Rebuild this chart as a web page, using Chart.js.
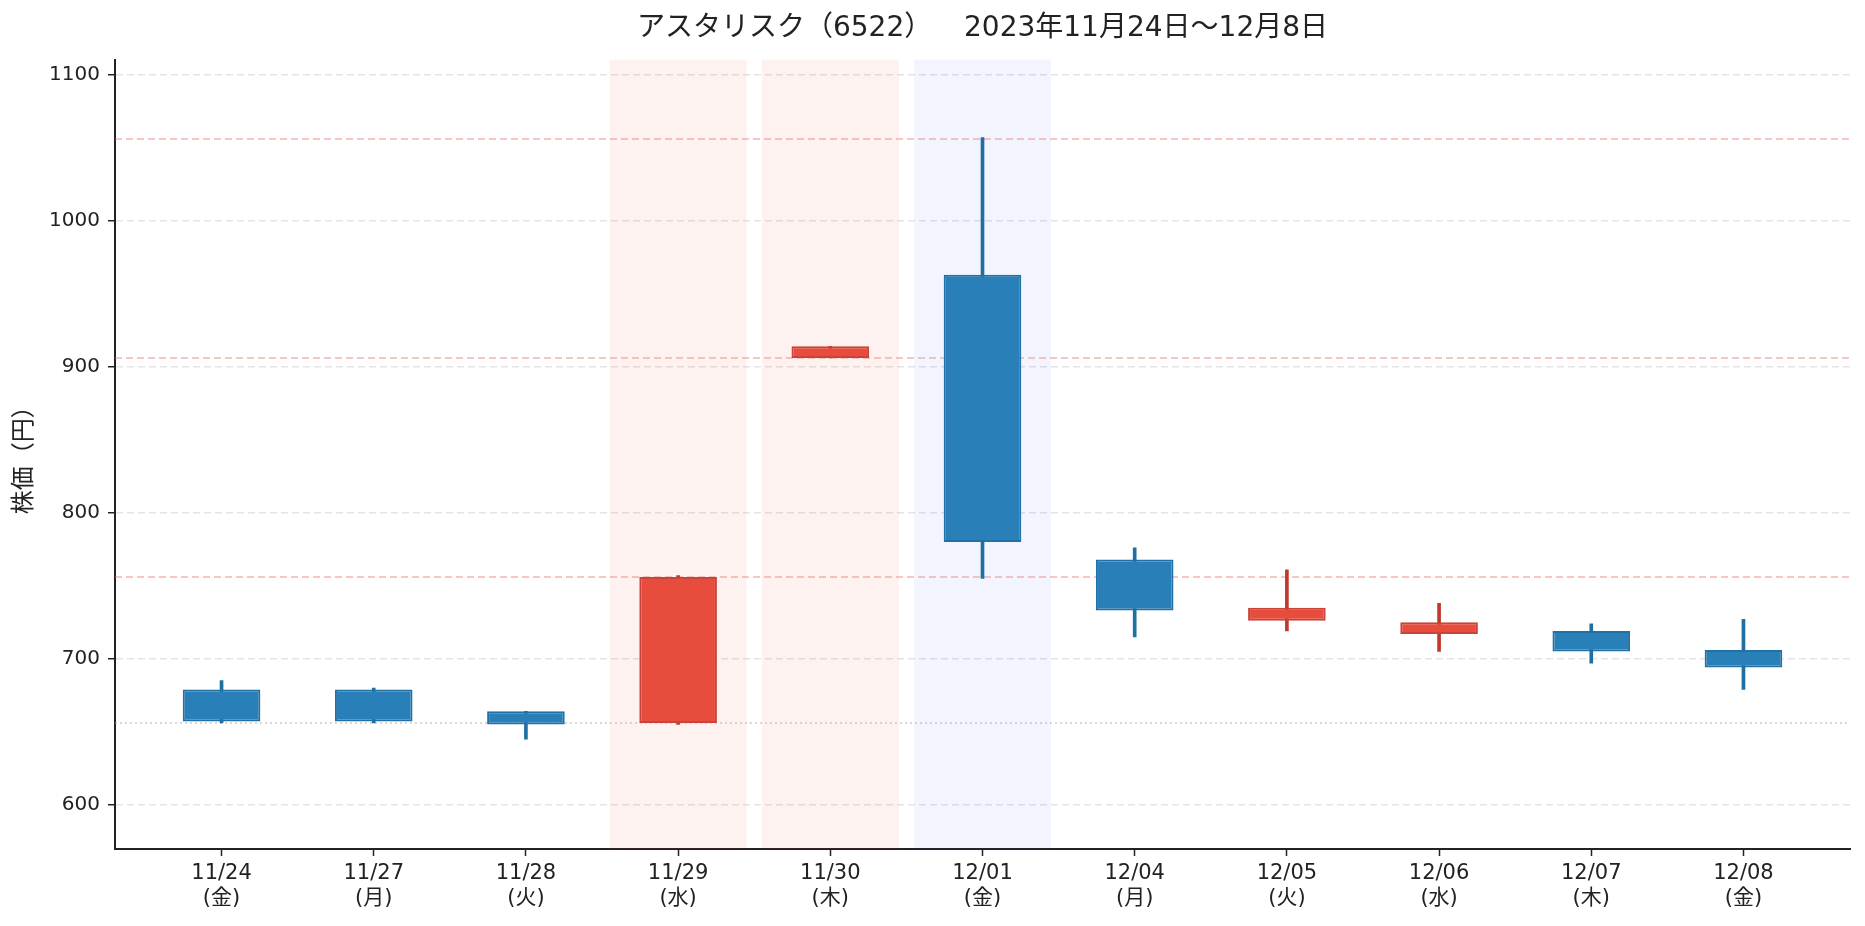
<!DOCTYPE html>
<html>
<head>
<meta charset="utf-8">
<script src="https://cdn.jsdelivr.net/npm/chart.js@4.4.1/dist/chart.umd.min.js"></script>
<style>
  html, body { margin: 0; padding: 0; background: #ffffff; }
  #wrap { width: 1865px; height: 926px; position: relative; }
</style>
</head>
<body>
<div id="wrap"><canvas id="c"></canvas></div>
<script>
// ---- data ----
const dates    = ['11/24','11/27','11/28','11/29','11/30','12/01','12/04','12/05','12/06','12/07','12/08'];
const weekdays = ['金','月','火','水','木','金','月','火','水','木','金'];
const openP  = [679, 679, 664, 656, 906, 963, 768, 726, 717, 719, 706];
const closeP = [657, 657, 655, 756, 914, 780, 733, 735, 725, 705, 694];
const highP  = [685, 680, 664, 757, 914, 1057, 776, 761, 738, 724, 727];
const lowP   = [656, 656, 645, 655, 906, 755, 715, 719, 705, 697, 679];
const limitLines = [756, 906, 1056];
const baseLine = 656;
const stopHighDays = [3, 4];
const markedDays = [5];
const yTicks = [600, 700, 800, 900, 1000, 1100];
const yMin = 569.7, yMax = 1110.4;
const xMin = -0.7, xMax = 10.7;

const titleText = 'アスタリスク（6522）　  2023年11月24日～12月8日';
const yTitle = '株価（円）';

// ---- styles ----
const UP_FILL = '#e74c3c', UP_EDGE = '#c8443a', UP_WICK = '#c0392b';
const DN_FILL = '#2980b9', DN_EDGE = '#2270a5', DN_WICK = '#1f6fa3';
const isUp = i => closeP[i] >= openP[i];

Chart.defaults.font.family = '"DejaVu Sans", "Noto Sans CJK JP", "Noto Sans", sans-serif';
Chart.defaults.color = '#222';

const spanIdx = stopHighDays.concat(markedDays);
const spanData = spanIdx.map(i => ({ x: i, y: [yMin, yMax] }));
const spanColors = spanIdx.map(i => markedDays.includes(i) ? 'rgba(60,100,240,0.065)' : 'rgba(231,76,60,0.075)');

const wickData = dates.map((d, i) => ({ x: i, y: [lowP[i], highP[i]] }));
const bodyData = dates.map((d, i) => ({ x: i, y: [openP[i], closeP[i]] }));

const lineDatasets = limitLines.map(v => ({
  type: 'line',
  data: [{ x: xMin, y: v }, { x: xMax, y: v }],
  borderColor: 'rgba(236,110,98,0.5)',
  borderWidth: 1.5,
  borderDash: [7, 4],
  pointRadius: 0,
  order: 4
}));
lineDatasets.push({
  type: 'line',
  data: [{ x: xMin, y: baseLine }, { x: xMax, y: baseLine }],
  borderColor: 'rgba(170,170,170,0.6)',
  borderWidth: 1.5,
  borderDash: [2, 3],
  pointRadius: 0,
  order: 4
});

new Chart(document.getElementById('c'), {
  type: 'bar',
  data: {
    datasets: [
      {
        data: spanData,
        backgroundColor: spanColors,
        borderWidth: 0,
        grouped: false,
        barPercentage: 0.9,
        categoryPercentage: 1.0,
        order: 5
      },
      ...lineDatasets,
      {
        data: wickData,
        backgroundColor: dates.map((d, i) => isUp(i) ? UP_WICK : DN_WICK),
        borderWidth: 0,
        grouped: false,
        barThickness: 3,
        order: 2
      },
      {
        data: bodyData,
        backgroundColor: dates.map((d, i) => isUp(i) ? UP_FILL : DN_FILL),
        borderColor: dates.map((d, i) => isUp(i) ? UP_EDGE : DN_EDGE),
        borderWidth: 2,
        borderSkipped: false,
        grouped: false,
        barPercentage: 0.51,
        categoryPercentage: 1.0,
        order: 1
      }
    ]
  },
  options: {
    responsive: true,
    maintainAspectRatio: false,
    animation: false,
    devicePixelRatio: 1,
    layout: { padding: { left: 0, right: 15, top: 0, bottom: 0 } },
    plugins: {
      legend: { display: false },
      tooltip: { enabled: false },
      title: {
        display: true,
        fullSize: false,
        text: titleText,
        font: { size: 28, weight: 'normal' },
        color: '#222',
        padding: { top: 12, bottom: 14 }
      }
    },
    scales: {
      x: {
        type: 'linear',
        min: xMin,
        max: xMax,
        offset: false,
        afterBuildTicks: s => { s.ticks = dates.map((d, i) => ({ value: i })); },
        afterFit: s => { s.height = 77; },
        ticks: {
          autoSkip: false,
          maxRotation: 0,
          padding: 5,
          font: { size: 21 },
          color: '#222',
          callback: v => [dates[v], '(' + weekdays[v] + ')']
        },
        grid: {
          offset: false,
          drawOnChartArea: false,
          drawTicks: true,
          tickLength: 7,
          tickColor: '#222',
          tickWidth: 1.5
        },
        border: { display: true, color: '#222', width: 2 }
      },
      y: {
        type: 'linear',
        min: yMin,
        max: yMax,
        afterBuildTicks: s => { s.ticks = yTicks.map(v => ({ value: v })); },
        afterFit: s => { s.width = 115; },
        ticks: {
          padding: 8,
          font: { size: 20 },
          color: '#222',
          callback: v => String(v)
        },
        grid: {
          color: '#e4e4e4',
          lineWidth: 1.5,
          drawTicks: true,
          tickLength: 7,
          tickColor: '#222',
          tickWidth: 1.5,
          tickBorderDash: []
        },
        border: { display: true, color: '#222', width: 2, dash: [7, 4] },
        title: {
          display: true,
          text: yTitle,
          font: { size: 24 },
          color: '#222',
          padding: { top: 10, bottom: 0 }
        }
      }
    }
  }
});
</script>
</body>
</html>
